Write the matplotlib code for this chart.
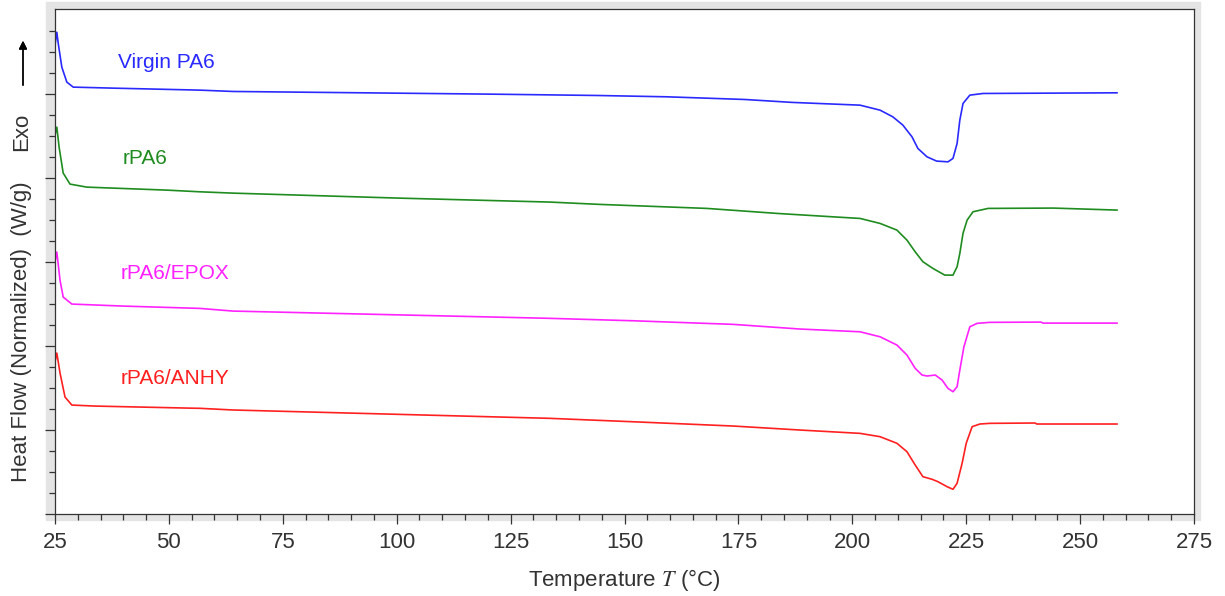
import numpy as np
import matplotlib.pyplot as plt
from matplotlib.patches import Rectangle
from matplotlib.ticker import MultipleLocator

plt.rcParams.update(
    {
        "font.family": ["Liberation Sans", "DejaVu Sans"],
        "mathtext.fontset": "stix",
        "font.size": 16,
        "axes.linewidth": 0.9,
    }
)

# DSC curves (temperature in deg C, heat flow in arbitrary stacked units)
virgin_T = [25.0, 25.4, 25.7, 26.5, 27.6, 29.0, 37.7, 56.8, 64.1, 92.4, 120.5, 144.0,
            159.3, 176.4, 186.8, 201.7, 206.1, 208.9, 211.1, 213.1, 214.4, 216.4, 218.5,
            221.0, 222.1, 223.0, 223.6, 224.3, 225.8, 228.7, 258.1]
virgin_hf = [5.617, 5.772, 5.641, 5.353, 5.174, 5.114, 5.102, 5.078, 5.062, 5.046, 5.030, 5.014,
             4.998, 4.966, 4.931, 4.898, 4.838, 4.758, 4.659, 4.519, 4.379, 4.279, 4.228,
             4.219, 4.260, 4.439, 4.719, 4.918, 5.018, 5.038, 5.046]

rpa6_T = [25.0, 25.4, 25.9, 26.8, 28.3, 32.0, 49.6, 56.8, 64.1, 100.7, 133.6, 144.6, 168.1,
          183.5, 195.8, 201.7, 206.1, 209.8, 212.0, 213.8, 215.5, 217.7, 220.3, 222.1, 223.0,
          223.6, 224.3, 225.2, 226.5, 229.8, 244.1, 258.1]
rpa6_hf = [4.539, 4.635, 4.395, 4.084, 3.952, 3.916, 3.880, 3.860, 3.844, 3.784, 3.737, 3.709,
           3.661, 3.601, 3.560, 3.541, 3.481, 3.401, 3.281, 3.141, 3.022, 2.942, 2.862, 2.862,
           2.962, 3.122, 3.362, 3.521, 3.621, 3.661, 3.665, 3.641]

epox_T = [25.0, 25.4, 26.1, 26.8, 28.7, 39.9, 56.8, 64.1, 133.6, 151.9, 173.8, 188.5, 201.7,
          206.1, 209.8, 212.0, 213.8, 215.3, 216.4, 218.2, 219.7, 221.0, 222.1, 223.0, 223.6,
          224.5, 225.8, 227.4, 230.2, 241.4, 241.9, 258.1]
epox_hf = [3.018, 3.138, 2.802, 2.599, 2.515, 2.491, 2.463, 2.431, 2.344, 2.315, 2.272, 2.216,
           2.183, 2.123, 2.024, 1.904, 1.745, 1.665, 1.653, 1.665, 1.605, 1.505, 1.465, 1.525,
           1.725, 2.004, 2.243, 2.284, 2.296, 2.299, 2.287, 2.287]

anhy_T = [25.0, 25.4, 26.1, 27.2, 28.7, 33.8, 54.0, 56.8, 64.1, 133.6, 151.9, 173.8, 188.5,
          201.7, 206.1, 209.8, 212.0, 213.8, 215.5, 217.5, 218.8, 220.8, 222.1, 223.0, 224.1,
          225.0, 226.3, 228.0, 230.2, 240.1, 240.5, 258.1]
anhy_hf = [1.820, 1.928, 1.689, 1.401, 1.305, 1.293, 1.269, 1.266, 1.246, 1.146, 1.105, 1.054,
           1.006, 0.966, 0.926, 0.847, 0.746, 0.587, 0.447, 0.416, 0.387, 0.327, 0.296, 0.368,
           0.607, 0.847, 1.046, 1.078, 1.086, 1.090, 1.078, 1.078]

labels = ["Virgin PA6", "rPA6", "rPA6/EPOX", "rPA6/ANHY"]
label_pos = [(38.8, 5.413), (39.9, 4.263), (39.3, 2.886), (39.3, 1.629)]
colors = ["#2a2aff", "#1f8c1f", "#ff22ff", "#ff2020"]

fig = plt.figure(figsize=(12.25, 5.96), dpi=100)
ax = fig.add_axes([55 / 1225, 1 - 514 / 596, (1194 - 55) / 1225, (514 - 9) / 596])
ax.set_facecolor("white")
ax.set_zorder(2)

# grey bevel behind the frame
bevel = Rectangle((46 / 1225, 1 - 520 / 596), (1200 - 46) / 1225, (520 - 2) / 596,
                  transform=fig.transFigure, color="#e4e4e4", zorder=-5)
fig.add_artist(bevel)

curves = [(virgin_T, virgin_hf), (rpa6_T, rpa6_hf), (epox_T, epox_hf), (anhy_T, anhy_hf)]
for (t, hf), c, lab, (lx, ly) in zip(curves, colors, labels, label_pos):
    ax.plot(t, hf, color=c, lw=1.2)
    ax.text(lx, ly, lab, color=c, fontsize=15, va="center", ha="left")

ax.set_xlim(25, 275)
ax.set_ylim(0, 6.05)
ax.xaxis.set_major_locator(MultipleLocator(25))
ax.xaxis.set_minor_locator(MultipleLocator(5))
step = 84 / 83.5
ax.set_yticks(np.arange(0, 6) * step)
ax.set_yticks(np.arange(0, 24) * step / 4, minor=True)
ax.set_yticklabels([])
ax.tick_params(which="major", length=7, width=0.9, color="#333333", labelcolor="#333333",
               labelsize=16, pad=6)
ax.tick_params(which="minor", length=4.5, width=0.9, color="#333333")
for s in ax.spines.values():
    s.set_color("#333333")

ax.set_xlabel(r"Temperature $T$ (°C)", color="#333333", fontsize=16, labelpad=10)

fig.text(22 / 1225, 1 - 332 / 596, "Heat Flow (Normalized)  (W/g)", rotation=90,
         ha="center", va="center", color="#333333", fontsize=16)
fig.text(22 / 1225, 1 - 132 / 596, "Exo", rotation=90, ha="center", va="center",
         color="#333333", fontsize=16)
fig.add_artist(plt.annotate("", xy=(23 / 1225, 1 - 38 / 596), xytext=(23 / 1225, 1 - 88 / 596),
                            xycoords="figure fraction", textcoords="figure fraction",
                            arrowprops=dict(arrowstyle="-|>", color="black", lw=1,
                                            mutation_scale=12)))

plt.savefig("out.png", dpi=100)
plt.close()
